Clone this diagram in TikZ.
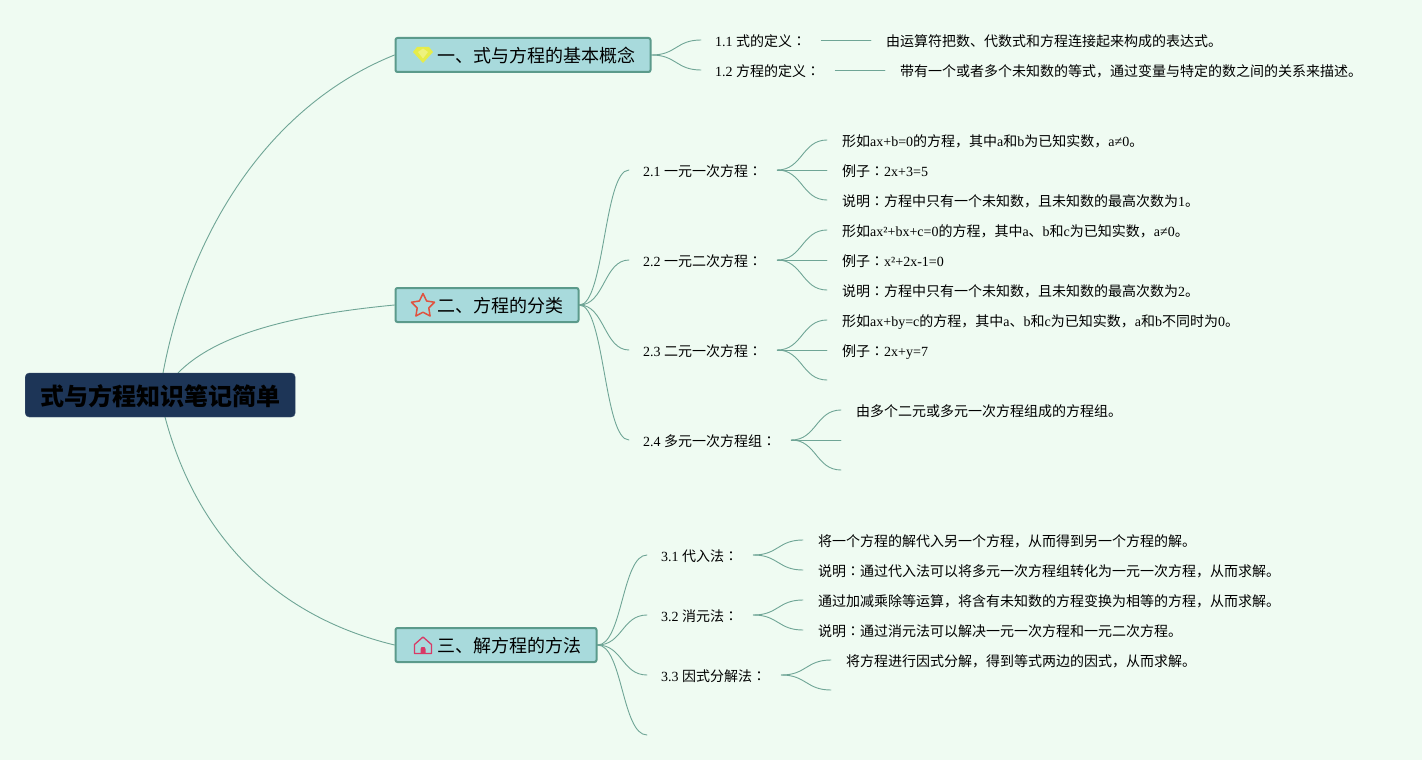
\documentclass[tikz,border=0pt]{standalone}
\usepackage{fontspec}
\setmainfont{Noto Sans CJK SC}
\newfontfamily\latf{Liberation Serif}
\newfontfamily\jpf{Noto Sans CJK JP}
\newcommand{\lat}[1]{{\latf #1}}
\newcommand{\cln}{{\jpf ：}}
\newcommand{\mtx}[2]{\makebox[#1pt][l]{#2}}
\definecolor{bgc}{HTML}{EFFBF2}
\definecolor{linec}{HTML}{6FA596}
\definecolor{boxf}{HTML}{A8DADC}
\definecolor{boxd}{HTML}{5B9A8B}
\definecolor{rootf}{HTML}{1D3557}
\definecolor{gemc}{HTML}{E6EC4A}
\definecolor{gemi}{HTML}{EEF27E}
\definecolor{starc}{HTML}{E0523F}
\definecolor{housec}{HTML}{D83A66}
\pgfdeclarelayer{front}\pgfsetlayers{main,front}
\tikzset{
  rootbox/.style={draw=rootf!85!white,fill=rootf,rounded corners=4pt,anchor=west,inner xsep=15pt,inner ysep=0pt,minimum height=44pt,text height=24pt,text depth=3pt,font=\fontsize{24}{28}\selectfont\bfseries,text=black},
  branchbox/.style={draw=boxd,line width=2pt,fill=boxf,rounded corners=2pt,anchor=west,inner xsep=15pt,inner ysep=0pt,minimum height=34pt,text height=18pt,text depth=2.2pt,font=\fontsize{18}{22}\selectfont,text=black},
  midlab/.style={anchor=west,inner xsep=14pt,inner ysep=1pt,text height=14pt,text depth=2pt,font=\fontsize{14}{18}\selectfont,text=black},
  leaflab/.style={anchor=west,inner xsep=15pt,inner ysep=1pt,text height=14pt,text depth=2pt,font=\fontsize{14}{18}\selectfont,text=black},
  lowered/.style={text height=16pt},
  conn/.style={draw=linec,line width=0.9pt,line cap=round},
  scurve/.style={out=0,in=180,distance=25pt},
}
\begin{document}
\begin{tikzpicture}[x=1pt,y=-1pt]
\useasboundingbox (0,0) rectangle (1422,760);
\fill[bgc] (0,0) rectangle (1422,760);

\begin{pgfonlayer}{front}
\node[rootbox] (root) at (25,395) {式与方程知识笔记简单};
\node[branchbox] (b1) at (394.5,55) {\hspace*{27pt}一、式与方程的基本概念};
\node[branchbox] (b2) at (394.5,305) {\hspace*{27pt}二、方程的分类};
\node[branchbox] (b3) at (394.5,645) {\hspace*{27pt}三、解方程的方法};

% level 2
\node[midlab,lowered] (a1) at (701,40) {\mtx{92}{\lat{1.1 }式的定义\cln}};
\node[midlab,lowered] (a2) at (701,70) {\mtx{106}{\lat{1.2 }方程的定义\cln}};
\node[midlab] (c1) at (629,170) {\mtx{120}{\lat{2.1 }一元一次方程\cln}};
\node[midlab] (c2) at (629,260) {\mtx{120}{\lat{2.2 }一元二次方程\cln}};
\node[midlab] (c3) at (629,350) {\mtx{120}{\lat{2.3 }二元一次方程\cln}};
\node[midlab] (c4) at (629,440) {\mtx{134}{\lat{2.4 }多元一次方程组\cln}};
\node[midlab] (d1) at (647,555) {\mtx{78}{\lat{3.1 }代入法\cln}};
\node[midlab] (d2) at (647,615) {\mtx{78}{\lat{3.2 }消元法\cln}};
\node[midlab] (d3) at (647,675) {\mtx{106}{\lat{3.3 }因式分解法\cln}};
\coordinate (d4) at (647,735);

% leaves
\node[leaflab,lowered] (a1t) at (871,40) {由运算符把数、代数式和方程连接起来构成的表达式。};
\node[leaflab,lowered] (a2t) at (885,70) {带有一个或者多个未知数的等式，通过变量与特定的数之间的关系来描述。};
\node[leaflab] (c11) at (827,140) {形如\lat{ax+b=0}的方程，其中\lat{a}和\lat{b}为已知实数，\lat{a≠0}。};
\node[leaflab] (c12) at (827,170) {例子\cln\lat{2x+3=5}};
\node[leaflab] (c13) at (827,200) {说明\cln 方程中只有一个未知数，且未知数的最高次数为\lat{1}。};
\node[leaflab] (c21) at (827,230) {形如\lat{ax²+bx+c=0}的方程，其中\lat{a}、\lat{b}和\lat{c}为已知实数，\lat{a≠0}。};
\node[leaflab] (c22) at (827,260) {例子\cln\lat{x²+2x-1=0}};
\node[leaflab] (c23) at (827,290) {说明\cln 方程中只有一个未知数，且未知数的最高次数为\lat{2}。};
\node[leaflab] (c31) at (827,320) {形如\lat{ax+by=c}的方程，其中\lat{a}、\lat{b}和\lat{c}为已知实数，\lat{a}和\lat{b}不同时为\lat{0}。};
\node[leaflab] (c32) at (827,350) {例子\cln\lat{2x+y=7}};
\coordinate (c33) at (827,380);
\node[leaflab] (c41) at (841,410) {由多个二元或多元一次方程组成的方程组。};
\coordinate (c42) at (841,440);
\coordinate (c43) at (841,470);
\node[leaflab] (d11) at (803,540) {将一个方程的解代入另一个方程，从而得到另一个方程的解。};
\node[leaflab] (d12) at (803,570) {说明\cln 通过代入法可以将多元一次方程组转化为一元一次方程，从而求解。};
\node[leaflab] (d21) at (803,600) {通过加减乘除等运算，将含有未知数的方程变换为相等的方程，从而求解。};
\node[leaflab] (d22) at (803,630) {说明\cln 通过消元法可以解决一元一次方程和一元二次方程。};
\node[leaflab] (d31) at (831,660) {将方程进行因式分解，得到等式两边的因式，从而求解。};
\coordinate (d32) at (831,690);

% icons
\fill[gemc] (413,52) -- (417,47) -- (429,47) -- (433,52) -- (423,63) -- cycle;
\fill[gemi] (418,52) -- (423,48.5) -- (428,52) -- (423,58.5) -- cycle;
\draw[draw=starc,line width=1.5pt,line join=round]
  (423,293.5) -- (426.6,301) -- (434.5,302.2) -- (428.8,308) -- (430.1,316) -- (423,312.2)
  -- (415.9,316) -- (417.2,308) -- (411.5,302.2) -- (419.4,301) -- cycle;
\draw[draw=housec,line width=1.3pt,line join=round]
  (414.5,653.5) -- (414.5,644.5) -- (423,637) -- (431.5,644.5) -- (431.5,653.5) -- cycle;
\fill[housec] (420.5,653.5) -- (420.5,649) -- (421.5,647) -- (424.5,647) -- (425.5,649) -- (425.5,653.5) -- cycle;
\end{pgfonlayer}

% root to branches
\draw[conn] (163,373) .. controls (190,230) and (270,105) .. (b1.west);
\draw[conn] (178,373) .. controls (215,335) and (290,315) .. (b2.west);
\draw[conn] (165,417) .. controls (195,530) and (270,615) .. (b3.west);

% branch 1
\foreach \t in {a1,a2} \draw[conn] (b1.east) to[scurve] (\t.west);
\draw[conn] (a1.east) -- (a1t.west);
\draw[conn] (a2.east) -- (a2t.west);

% branch 2
\foreach \t in {c1,c2,c3,c4} \draw[conn] (b2.east) to[scurve] (\t.west);
\foreach \t in {c11,c12,c13} \draw[conn] (c1.east) to[scurve] (\t.west);
\foreach \t in {c21,c22,c23} \draw[conn] (c2.east) to[scurve] (\t.west);
\foreach \t in {c31,c32} \draw[conn] (c3.east) to[scurve] (\t.west);
\draw[conn] (c3.east) to[scurve] (c33);
\draw[conn] (c4.east) to[scurve] (c41.west);
\draw[conn] (c4.east) to[scurve] (c42);
\draw[conn] (c4.east) to[scurve] (c43);

% branch 3
\foreach \t in {d1,d2,d3} \draw[conn] (b3.east) to[scurve] (\t.west);
\draw[conn] (b3.east) to[scurve] (d4);
\foreach \t in {d11,d12} \draw[conn] (d1.east) to[scurve] (\t.west);
\foreach \t in {d21,d22} \draw[conn] (d2.east) to[scurve] (\t.west);
\draw[conn] (d3.east) to[scurve] (d31.west);
\draw[conn] (d3.east) to[scurve] (d32);
\end{tikzpicture}
\end{document}
